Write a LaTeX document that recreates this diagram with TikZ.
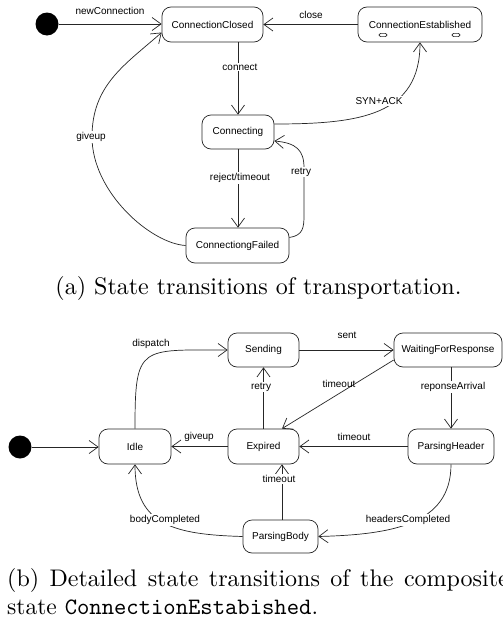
\documentclass[tikz,border=0pt]{standalone}
\usepackage{graphicx}
\usepackage{fontspec}
\newfontfamily\diag{Liberation Sans}
\usetikzlibrary{arrows.meta}
\begin{document}
\begin{tikzpicture}[x=1pt,y=-1pt,
  st/.style={draw=black!85, line width=0.7pt, rounded corners=9pt, font=\diag\fontsize{10}{12}\selectfont, inner sep=0pt, minimum height=34pt},
  lbl/.style={font=\diag\fontsize{10}{12}\selectfont, fill=white, inner sep=1pt},
  lblfree/.style={font=\diag\fontsize{10}{12}\selectfont, inner sep=1pt},
  tr/.style={draw=black!85, line width=0.7pt, -{Straight Barb[length=9pt,width=13pt]}},
  init/.style={circle, fill=black, minimum size=23pt, inner sep=0pt},
  mini/.style={draw=black!85, line width=0.6pt, rounded corners=1.5pt, minimum width=8pt, minimum height=3.2pt, inner sep=0pt},
  capbox/.style={inner sep=0pt}]
\fill[white] (0,0) rectangle (503,621);
\useasboundingbox (0,0) rectangle (503,621);

% ---------- (a) ----------
\node[init] (i1) at (47,24) {};
\node[st, minimum width=101pt, minimum height=35pt] (cc) at (212.5,24.5) {ConnectionClosed};
\node[st, minimum width=124pt, minimum height=35pt] (ce) at (420,24.5) {ConnectionEstablished};
\node[mini] (ce1) at ([xshift=-37pt,yshift=-10.5pt]ce.center) {};
\node[mini] (ce2) at ([xshift=36pt,yshift=-10.5pt]ce.center) {};
\node[st, minimum width=72pt] (con) at (238,132) {Connecting};
\node[st, minimum width=103pt, minimum height=35pt] (cf) at (237.5,245.5) {ConnectiongFailed};

\draw[tr] (i1) -- (i1 -| cc.west);
\draw[tr] (ce.west) -- (cc.east);
\draw[tr] (con.north |- cc.south) -- (con.north);
\draw[tr] (con.south) -- (con.south |- cf.north);
\draw[tr] ([yshift=8pt]con.east) .. controls +(86,0) and +(0,73) .. (ce.south);
\draw[tr] ([yshift=8pt]cf.east) .. controls +(14,-2) and +(0,12) .. (304,215) -- (304,168)
  .. controls +(0,-18) and +(22,2) .. ([yshift=-9pt]con.east);
\draw[tr] (cf.west) .. controls +(-35,-2) and +(0,55) .. (92,137)
  .. controls +(0,-52) and +(-37,32.5) .. ([yshift=-8pt]cc.west);

\node[lblfree] (l1) at (110,11) {newConnection};
\node[lblfree] (l2) at (311,15) {close};
\node[lbl] (l3) at (240,67) {connect};
\node[lbl] (l4) at (379,101) {SYN+ACK};
\node[lbl] (l5) at (240,178) {reject/timeout};
\node[lbl] (l6) at (301,172) {retry};
\node[lbl] (l7) at (91,137) {giveup};

\node[capbox, anchor=base] (capa) at (258.5,294) {\scalebox{2.4}{(a) State transitions of transportation.}};

% ---------- (b) ----------
\node[init] (i2) at (20,447) {};
\node[st, minimum width=72pt, minimum height=35pt] (idle) at (135,446.5) {Idle};
\node[st, minimum width=71pt, minimum height=35pt] (exp) at (263.5,446.5) {Expired};
\node[st, minimum width=86pt, minimum height=35pt] (ph) at (451,446.5) {ParsingHeader};
\node[st, minimum width=71pt] (snd) at (263.5,350) {Sending};
\node[st, minimum width=108pt] (wfr) at (448,350) {WaitingForResponse};
\node[st, minimum width=75pt, minimum height=33pt] (pb) at (280.5,536.5) {ParsingBody};

\draw[tr] (i2) -- (i2 -| idle.west);
\draw[tr] (idle.north) .. controls +(0,-84) and +(-88,0) .. (snd.west);
\draw[tr] (snd.east) -- (wfr.west);
\draw[tr] (exp.north) -- (snd.south);
\draw[tr] ([yshift=-10pt]wfr.west) -- ([xshift=18.5pt]exp.north);
\draw[tr] (ph.north |- wfr.south) -- (ph.north);
\draw[tr] (ph.west) -- (exp.east);
\draw[tr] (exp.west) -- (idle.east);
\draw[tr] ([xshift=1.5pt]pb.north) -- ([xshift=1.5pt]pb.north |- exp.south);
\draw[tr] (pb.west) .. controls +(-68,-2) and +(0,61) .. (idle.south);
\draw[tr] (ph.south) .. controls +(0,61) and +(72,-2) .. (pb.east);

\node[lblfree] (m1) at (151,343.5) {dispatch};
\node[lblfree] (m2) at (347,335) {sent};
\node[lbl] (m3) at (261,387) {retry};
\node[lblfree] (m4) at (339,384) {timeout};
\node[lbl] (m5) at (453,387) {reponseArrival};
\node[lblfree] (m6) at (199,437) {giveup};
\node[lblfree] (m7) at (354,437) {timeout};
\node[lbl] (m8) at (279,479) {timeout};
\node[lbl] (m9) at (165,520) {bodyCompleted};
\node[lbl] (m10) at (408,520) {headersCompleted};

\node[capbox, anchor=base west] (capb1) at (7,586) {\scalebox{2.4}{\makebox[209pt][s]{(b) Detailed state transitions of the composite}}};
\node[capbox, anchor=base west] (capb2) at (7,614) {\scalebox{2.35}{state \texttt{ConnectionEstabished}.}};
\end{tikzpicture}
\end{document}
